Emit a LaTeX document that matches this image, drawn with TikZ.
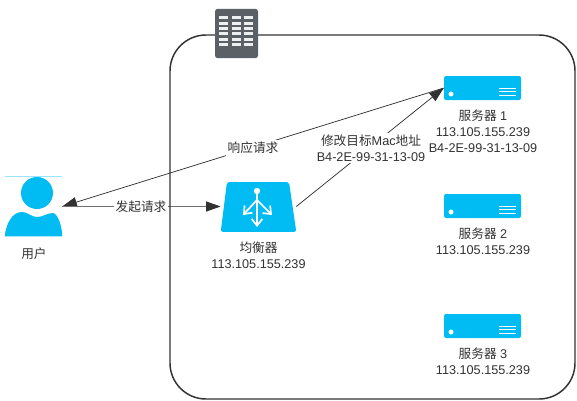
\documentclass[tikz,border=0pt]{standalone}
\usepackage{fontspec}
\setmainfont{Liberation Sans}
\newfontfamily\cjk{Noto Sans CJK SC}
\usepackage{xcolor}
\definecolor{azure}{RGB}{0,188,242}
\definecolor{slab}{RGB}{90,96,102}
\definecolor{ink}{RGB}{50,50,50}
\usetikzlibrary{arrows.meta}

\begin{document}
\begin{tikzpicture}[x=0.75pt, y=-0.75pt, every node/.style={font=\fontsize{9.5}{12}\selectfont, text=ink}]
\tikzset{
    groupbox/.style={draw=ink, line width=1.1pt, rounded corners=27pt, minimum width=303.75pt, minimum height=273pt, inner sep=0pt},
    rackbox/.style={fill=slab, rounded corners=2pt, minimum width=32.25pt, minimum height=37pt, inner sep=0pt},
    serverbox/.style={fill=azure, rounded corners=1.5pt, minimum width=57.75pt, minimum height=18pt, inner sep=0pt},
    balancebox/.style={minimum width=56.25pt, minimum height=37.5pt, inner sep=0pt},
    userbox/.style={minimum width=42.75pt, minimum height=44.25pt, inner sep=0pt},
    textnode/.style={align=center, anchor=north, inner sep=0pt},
    edgelabel/.style={align=center, fill=white, inner sep=1.5pt},
    conn/.style={draw=ink, line width=0.55pt, -{Triangle[length=11pt, width=7.5pt, color=ink, fill=ink]}},
    whiteline/.style={white, line width=1.3pt}
}
\useasboundingbox (0,0) rectangle (577,400);

\node[userbox] (user) at (33.5,206.5) {};
\node[balancebox] (balancer) at (258.5,206.5) {};
\node[serverbox] (server1) at (482.5,88) {};
\node[serverbox] (server2) at (482.5,206) {};
\node[serverbox] (server3) at (482.5,326) {};

% connectors
\draw[conn] (server1.west) -- (user.east);
\draw[conn, draw=ink!70, line width=0.9pt] (user.east) -- (balancer.west);
\draw[conn] (balancer.east) -- (server1.west);
\node[edgelabel] (lblreq) at (141,207) {{\cjk 发起请求}};
\node[edgelabel] (lblresp) at (253,148) {{\cjk 响应请求}};
\node[edgelabel] (lblmac) at (371,148) {{\cjk 修改目标}Mac{\cjk 地址}\\B4-2E-99-31-13-09};

% group
\node[groupbox] (group) at (372.5,217) {};
\node[rackbox] (rack) at (236.5,33.5) {};
\foreach \y in {17.5,23,28.5,33.5,39.5,44.5}
    \foreach \x in {223.5,236.5,248} {
        \fill[white!90!slab] (\x-4.5,\y-1.5) rectangle (\x+4.5,\y+1.5);
    }

% user
\draw[azure!40, line width=0.5pt] (user.north west) -- (user.north east);
\fill[azure] (37,193) circle (16);
\fill[azure] (user.south west) .. controls (6,224) and (12,212) .. (22,212)
    .. controls (28,212) and (31,217) .. (37,217)
    .. controls (43,217) and (47,213) .. (53,213)
    .. controls (58,214) and (62,226) .. (user.south east) -- cycle;
\node[textnode] (lbluser) at (34,248) {{\cjk 用户}};

% balancer
\fill[azure, rounded corners=1.5pt] (balancer.south west) -- (227,182) -- (289,182) -- (balancer.south east) -- cycle;
\fill[white] (257,191) circle (3.2);
\draw[whiteline, -{Straight Barb[length=5pt, width=8pt]}] (257,191) -- (257,227);
\draw[whiteline, -{Straight Barb[length=5pt, width=8pt]}] (257,200) -- (243,215);
\draw[whiteline, -{Straight Barb[length=5pt, width=8pt]}] (257,200) -- (272,215);
\node[textnode] (lblbalancer) at (258.5,242) {{\cjk 均衡器}\\113.105.155.239};

% servers
\foreach \i/\yc in {1/88,2/206,3/326} {
    \fill[white] (451,\yc+6) circle (2.5);
    \foreach \d in {0,3.5,7}
        \draw[white, line width=0.7pt] (499,\yc+\d) -- (516,\yc+\d);
}
\node[textnode] (lblserver1) at (483,110) {{\cjk 服务器} 1\\113.105.155.239\\B4-2E-99-31-13-09};
\node[textnode] (lblserver2) at (483,228) {{\cjk 服务器} 2\\113.105.155.239};
\node[textnode] (lblserver3) at (483,348) {{\cjk 服务器} 3\\113.105.155.239};

\end{tikzpicture}
\end{document}
